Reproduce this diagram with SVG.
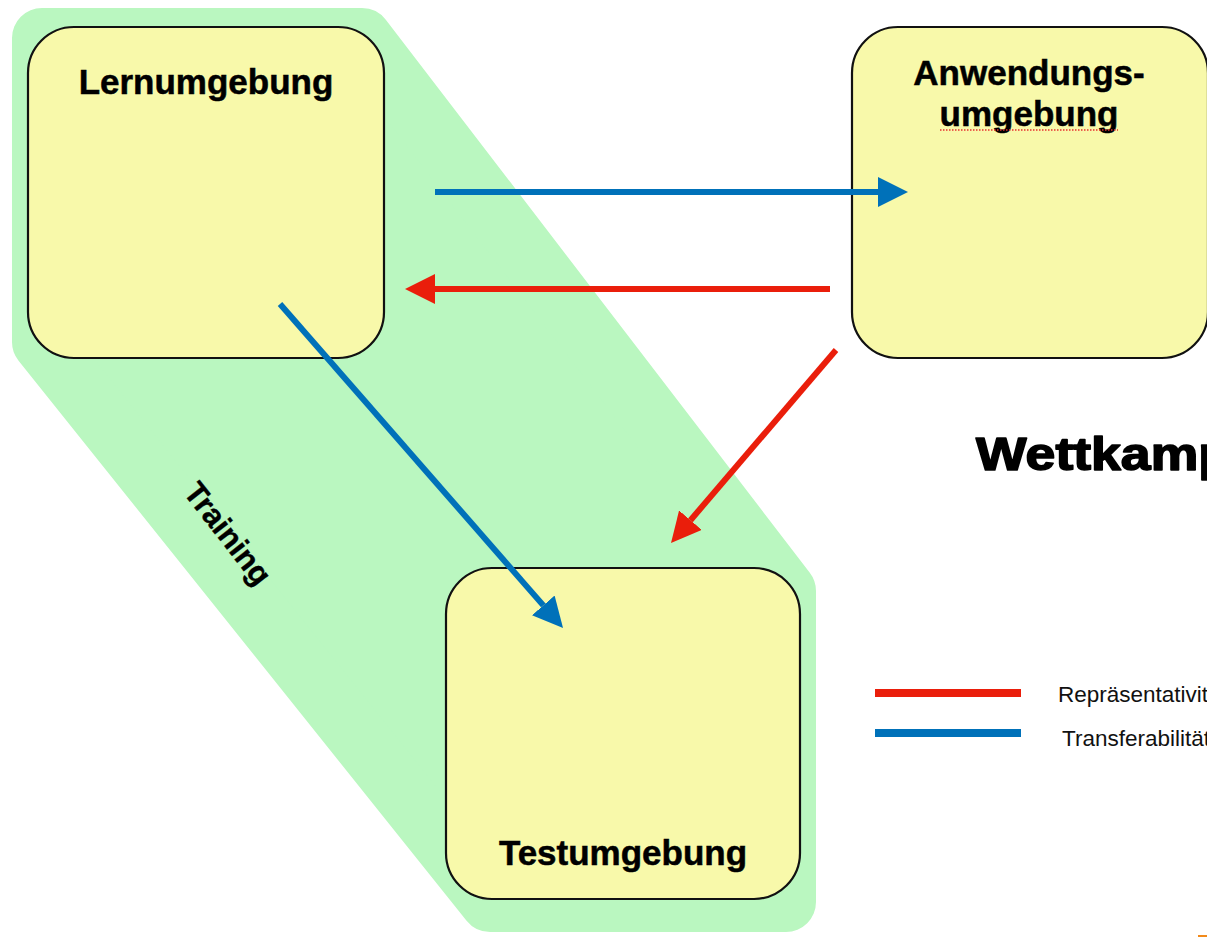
<svg xmlns="http://www.w3.org/2000/svg" width="1207" height="937" viewBox="0 0 1207 937">
  <style>
    .env { fill: #F8F9AA; stroke: #111; stroke-width: 2.2; }
    .title { font-family: "Liberation Sans", Arial, sans-serif; font-weight: bold; font-size: 35px; fill: #000; stroke: #000; stroke-width: 0.5; text-anchor: middle; }
    .legend-text { font-family: "Liberation Sans", Arial, sans-serif; font-size: 22.5px; fill: #111; }
    .blue { stroke: #0071B9; stroke-width: 6; fill: none; }
    .red { stroke: #EA1E0B; stroke-width: 6; fill: none; }
  </style>
  <defs>
    <marker id="head-blue" markerUnits="userSpaceOnUse" markerWidth="30" markerHeight="30" refX="0" refY="15" orient="auto">
      <path d="M0,0 L30,15 L0,30 Z" fill="#0071B9"/>
    </marker>
    <marker id="head-red" markerUnits="userSpaceOnUse" markerWidth="30" markerHeight="30" refX="0" refY="15" orient="auto">
      <path d="M0,0 L30,15 L0,30 Z" fill="#EA1E0B"/>
    </marker>
  </defs>

  <rect width="1207" height="937" fill="#fff"/>

  <!-- Training area behind the learning and test environments -->
  <g id="training">
    <polygon points="42,38 362,38 786,591 786,902 490,902 42,342" fill="#BAF7C0" stroke="#BAF7C0" stroke-width="60" stroke-linejoin="round"/>
    <text transform="translate(226,535) rotate(52)" text-anchor="middle" dominant-baseline="middle" font-family="Liberation Sans, Arial, sans-serif" font-weight="bold" font-size="31" fill="#000" stroke="#000" stroke-width="0.4">Training</text>
  </g>

  <g id="lernumgebung">
    <rect class="env" x="28" y="27" width="356" height="331" rx="46" ry="46"/>
    <text class="title" x="206" y="94">Lernumgebung</text>
  </g>

  <g id="anwendungsumgebung">
    <rect class="env" x="852" y="27" width="356" height="331" rx="46" ry="46"/>
    <text class="title" x="1029" y="85">Anwendungs-</text>
    <text class="title" x="1029" y="126">umgebung</text>
    <line x1="940" y1="130" x2="1118" y2="130" stroke="#E53030" stroke-width="1.4" stroke-dasharray="1.5 1.5"/>
  </g>

  <g id="testumgebung">
    <rect class="env" x="446" y="568" width="354" height="331" rx="46" ry="46"/>
    <text class="title" x="623" y="865">Testumgebung</text>
  </g>

  <g id="connectors">
    <line class="blue" x1="435" y1="192" x2="878" y2="192" marker-end="url(#head-blue)"/>
    <line class="red" x1="830" y1="289" x2="435" y2="289" marker-end="url(#head-red)"/>
    <line class="blue" x1="280" y1="304" x2="543.3" y2="605.4" marker-end="url(#head-blue)"/>
    <line class="red" x1="836" y1="350" x2="690.5" y2="520.2" marker-end="url(#head-red)"/>
  </g>

  <g id="wettkampf">
    <text x="976" y="470" font-family="Liberation Sans, Arial, sans-serif" font-weight="bold" font-size="46" fill="#000" stroke="#000" stroke-width="1.6" stroke-linejoin="round" textLength="255" lengthAdjust="spacingAndGlyphs">Wettkamp</text>
  </g>

  <g id="legend">
    <line x1="875" y1="693" x2="1021" y2="693" stroke="#EA1E0B" stroke-width="8"/>
    <line x1="875" y1="733" x2="1021" y2="733" stroke="#0071B9" stroke-width="8"/>
    <text class="legend-text" x="1058" y="702">Repräsentativität</text>
    <text class="legend-text" x="1062" y="746">Transferabilität</text>
  </g>

  <rect x="1198" y="935" width="9" height="2" fill="#F28A1A"/>
</svg>
